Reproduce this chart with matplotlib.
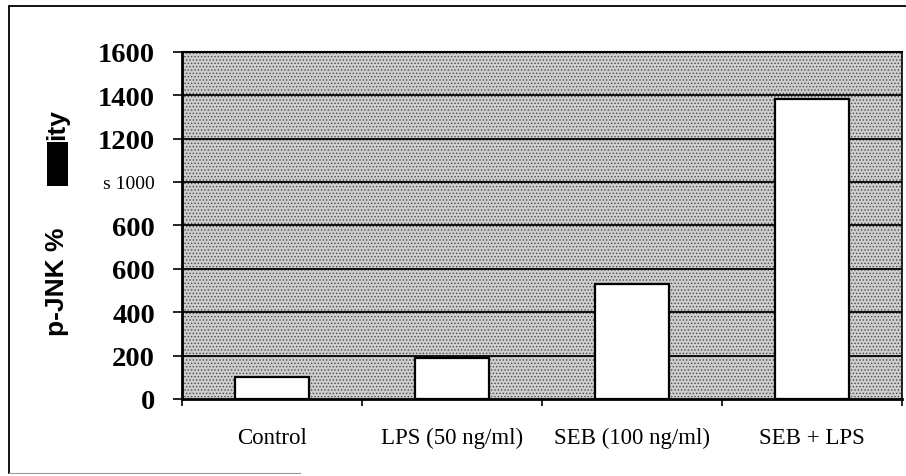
import matplotlib

matplotlib.use("Agg")
import matplotlib.pyplot as plt
from matplotlib.patches import Rectangle
from matplotlib.lines import Line2D

# values
categories = ["Control", "LPS (50 ng/ml)", "SEB (100 ng/ml)", "SEB + LPS"]
values = [100, 190, 530, 1380]
yticks = [0, 200, 400, 600, 800, 1000, 1200, 1400, 1600]
# labels as printed on the scan (the 800 tick reads "600")
ytick_labels = ["0", "200", "400", "600", "600", "s 1000", "1200", "1400", "1600"]

W, H = 906, 477
plt.rcParams["hatch.linewidth"] = 0.6
fig = plt.figure(figsize=(W / 100, H / 100), dpi=100)
fig.patch.set_facecolor("white")

ax = fig.add_axes([182 / W, 1 - 400 / H, 720 / W, (400 - 52.7) / H])
ax.set_facecolor("#cdcdcd")
bg = Rectangle((0, 0), 1, 1, transform=ax.transAxes, facecolor="#cdcdcd",
               edgecolor="#4a4a4a", hatch=".....", lw=0, zorder=0)
ax.add_patch(bg)

x = list(range(len(categories)))
ax.bar(x, values, width=0.41, color="white", edgecolor="black", linewidth=1.6, zorder=3)

ax.set_xlim(-0.5, 3.5)
ax.set_ylim(0, 1600)

for yv in yticks[1:-1]:
    ax.axhline(yv, color="black", linewidth=1.3, zorder=2)

ax.set_yticks(yticks)
ax.set_yticklabels(ytick_labels, fontfamily="Liberation Serif", fontweight="bold", fontsize=20.5)
lab = ax.get_yticklabels()[5]
lab.set_fontweight("normal")
lab.set_fontsize(14)
ax.tick_params(axis="y", direction="out", length=6.5, width=1.2, pad=13)

ax.set_xticks(x)
ax.set_xticklabels(categories, fontfamily="Liberation Serif", fontsize=16.5)
ax.tick_params(axis="x", which="major", length=0, pad=20)
ax.set_xticks([-0.5, 0.5, 1.5, 2.5, 3.5], minor=True)
ax.tick_params(axis="x", which="minor", direction="out", length=5, width=1.2)

for s in ["left", "bottom"]:
    ax.spines[s].set_linewidth(2)
ax.spines["top"].set_linewidth(1.5)
ax.spines["right"].set_linewidth(1.2)

# y label as scanned: "p-JNK %", a black blot, then "ity"
fig.text(57 / W, 1 - 282 / H, "p-JNK %", rotation=90, ha="center", va="center",
         fontfamily="Liberation Sans", fontweight="bold", fontsize=19)
fig.patches.append(Rectangle((47 / W, 1 - 187 / H), 21 / W, 44 / H,
                             transform=fig.transFigure, facecolor="black", lw=0))
fig.text(57 / W, 1 - 125 / H, "ity", rotation=90, ha="center", va="center",
         fontfamily="Liberation Sans", fontweight="bold", fontsize=19)

# scan frame
fig.lines.append(Line2D([9 / W, 9 / W], [1 - 8 / H, 1 - 474 / H], transform=fig.transFigure,
                        color="black", lw=1.3))
fig.lines.append(Line2D([9 / W, 1], [1 - 7 / H, 1 - 7 / H], transform=fig.transFigure,
                        color="black", lw=1.3))
fig.lines.append(Line2D([9 / W, 300 / W], [1 - 474 / H, 1 - 474 / H], transform=fig.transFigure,
                        color="#999999", lw=0.8))

fig.savefig("out.png", dpi=100)
